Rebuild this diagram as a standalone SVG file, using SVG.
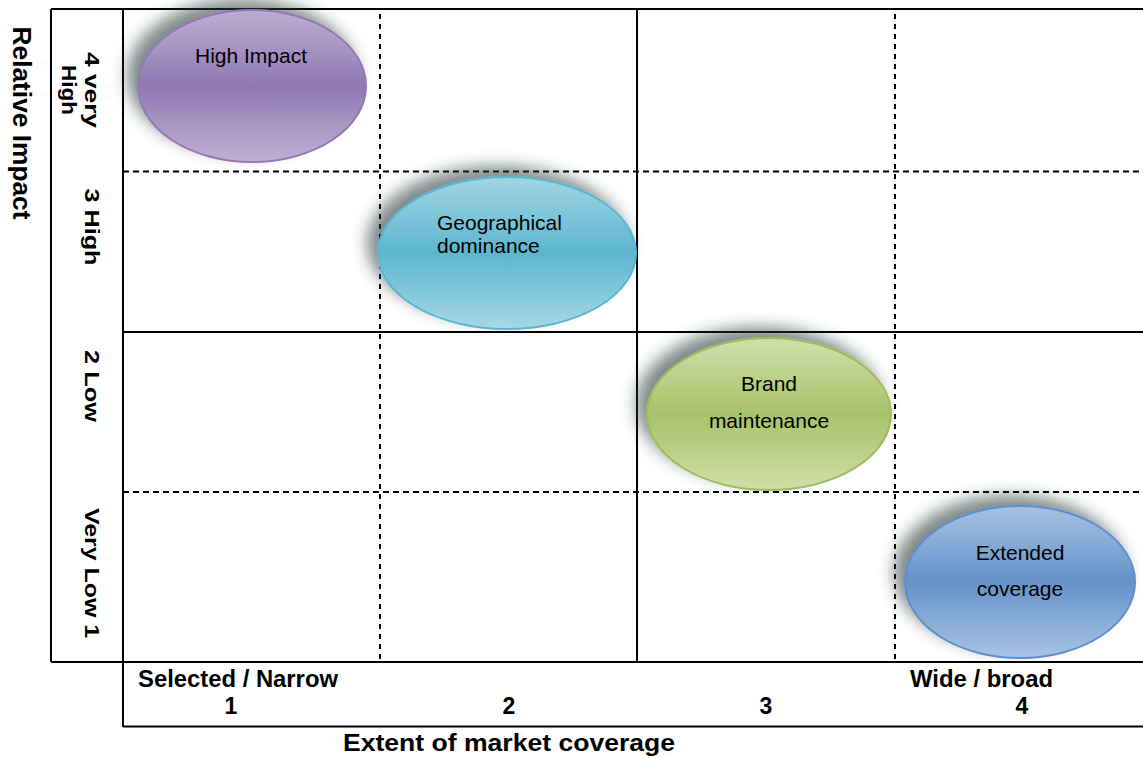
<svg xmlns="http://www.w3.org/2000/svg" width="1143" height="758" viewBox="0 0 1143 758">
<style>
.solid{stroke:#000;stroke-width:2;fill:none}
.dh{stroke:#000;stroke-width:2;stroke-dasharray:6 4;fill:none}
.dv{stroke:#000;stroke-width:2;stroke-dasharray:5 5;fill:none}
.ax{font-family:"Liberation Sans",Arial,sans-serif;font-weight:bold;font-size:21px;fill:#000}
.bx{font-size:23px}
.big{font-size:25px}
.lbl{font-family:"Liberation Sans",Arial,sans-serif;font-size:21px;fill:#000}
</style>
<defs>
<filter id="sh" x="-30%" y="-30%" width="160%" height="160%">
<feGaussianBlur in="SourceAlpha" stdDeviation="8" result="b"/>
<feOffset in="b" dx="-10" dy="-10" result="o"/>
<feFlood flood-color="#2a3a3a" flood-opacity="0.6"/>
<feComposite in2="o" operator="in" result="s"/>
<feMerge><feMergeNode in="s"/><feMergeNode in="SourceGraphic"/></feMerge>
</filter>
<linearGradient id="gp" x1="0" y1="0" x2="0" y2="1">
<stop offset="0" stop-color="#bcaed2"/><stop offset="0.5" stop-color="#9179b1"/><stop offset="1" stop-color="#bfb1d4"/></linearGradient>
<linearGradient id="gc" x1="0" y1="0" x2="0" y2="1">
<stop offset="0" stop-color="#a2d5e4"/><stop offset="0.5" stop-color="#5bb6cf"/><stop offset="1" stop-color="#a8d8e6"/></linearGradient>
<linearGradient id="gg" x1="0" y1="0" x2="0" y2="1">
<stop offset="0" stop-color="#d0dfab"/><stop offset="0.5" stop-color="#a7c36a"/><stop offset="1" stop-color="#d0dea8"/></linearGradient>
<linearGradient id="gb" x1="0" y1="0" x2="0" y2="1">
<stop offset="0" stop-color="#a6c1e2"/><stop offset="0.5" stop-color="#6592c9"/><stop offset="1" stop-color="#a9c3e4"/></linearGradient>
</defs>
<rect width="1143" height="758" fill="#fff"/>
<g id="connectors">
<line class="dh" x1="123" y1="171.5" x2="1143" y2="171.5"/>
<line class="dh" x1="123" y1="492" x2="1143" y2="492"/>
<line class="dv" x1="380" y1="14" x2="380" y2="662"/>
<line class="dv" x1="895" y1="14" x2="895" y2="662"/>
<line class="solid" x1="51" y1="9" x2="1143" y2="9"/>
<line class="solid" x1="51" y1="9" x2="51" y2="662"/>
<line class="solid" x1="123" y1="9" x2="123" y2="727"/>
<line class="solid" x1="123" y1="332" x2="1143" y2="332"/>
<line class="solid" x1="637" y1="9" x2="637" y2="662"/>
<line class="solid" x1="51" y1="662" x2="1143" y2="662"/>
<line class="solid" x1="123" y1="726.5" x2="1143" y2="726.5"/>
</g>
<g id="axis-y">
<text class="ax big" transform="translate(13,123) rotate(90)" text-anchor="middle" textLength="193" lengthAdjust="spacingAndGlyphs">Relative Impact</text>
<text class="ax" transform="translate(85,90) rotate(90)" text-anchor="middle" textLength="76" lengthAdjust="spacingAndGlyphs">4 very</text>
<text class="ax" transform="translate(62,90) rotate(90)" text-anchor="middle" textLength="50" lengthAdjust="spacingAndGlyphs">High</text>
<text class="ax" transform="translate(85,227) rotate(90)" text-anchor="middle" textLength="77" lengthAdjust="spacingAndGlyphs">3  High</text>
<text class="ax" transform="translate(85,386) rotate(90)" text-anchor="middle" textLength="72" lengthAdjust="spacingAndGlyphs">2  Low</text>
<text class="ax" transform="translate(85,573) rotate(90)" text-anchor="middle" textLength="130" lengthAdjust="spacingAndGlyphs">Very Low  1</text>
</g>
<g id="axis-x">
<text class="ax bx" x="138" y="687" textLength="200" lengthAdjust="spacingAndGlyphs">Selected / Narrow</text>
<text class="ax bx" x="910" y="687" textLength="143" lengthAdjust="spacingAndGlyphs">Wide / broad</text>
<text class="ax bx" x="231" y="714" text-anchor="middle">1</text>
<text class="ax bx" x="509" y="714" text-anchor="middle">2</text>
<text class="ax bx" x="766" y="714" text-anchor="middle">3</text>
<text class="ax bx" x="1022" y="714" text-anchor="middle">4</text>
<text class="ax bx" x="343" y="751" textLength="332" lengthAdjust="spacingAndGlyphs">Extent of market coverage</text>
</g>
<g id="high-impact">
<ellipse cx="252" cy="86" rx="114" ry="76" fill="url(#gp)" stroke="#9478b3" stroke-width="2" filter="url(#sh)"/>
<text class="lbl" x="251" y="63" text-anchor="middle">High Impact</text>
</g>
<g id="geographical-dominance">
<ellipse cx="507" cy="253" rx="129" ry="76" fill="url(#gc)" stroke="#5ab6d0" stroke-width="2" filter="url(#sh)"/>
<text class="lbl" x="437" y="230">Geographical</text>
<text class="lbl" x="437" y="253">dominance</text>
</g>
<g id="brand-maintenance">
<ellipse cx="769" cy="414" rx="122" ry="76" fill="url(#gg)" stroke="#9cbb5a" stroke-width="2" filter="url(#sh)"/>
<text class="lbl" x="769" y="391" text-anchor="middle">Brand</text>
<text class="lbl" x="769" y="428" text-anchor="middle">maintenance</text>
</g>
<g id="extended-coverage">
<ellipse cx="1020" cy="582" rx="115" ry="76" fill="url(#gb)" stroke="#5c8fcb" stroke-width="2" filter="url(#sh)"/>
<text class="lbl" x="1020" y="560" text-anchor="middle">Extended</text>
<text class="lbl" x="1020" y="596" text-anchor="middle">coverage</text>
</g>
</svg>
